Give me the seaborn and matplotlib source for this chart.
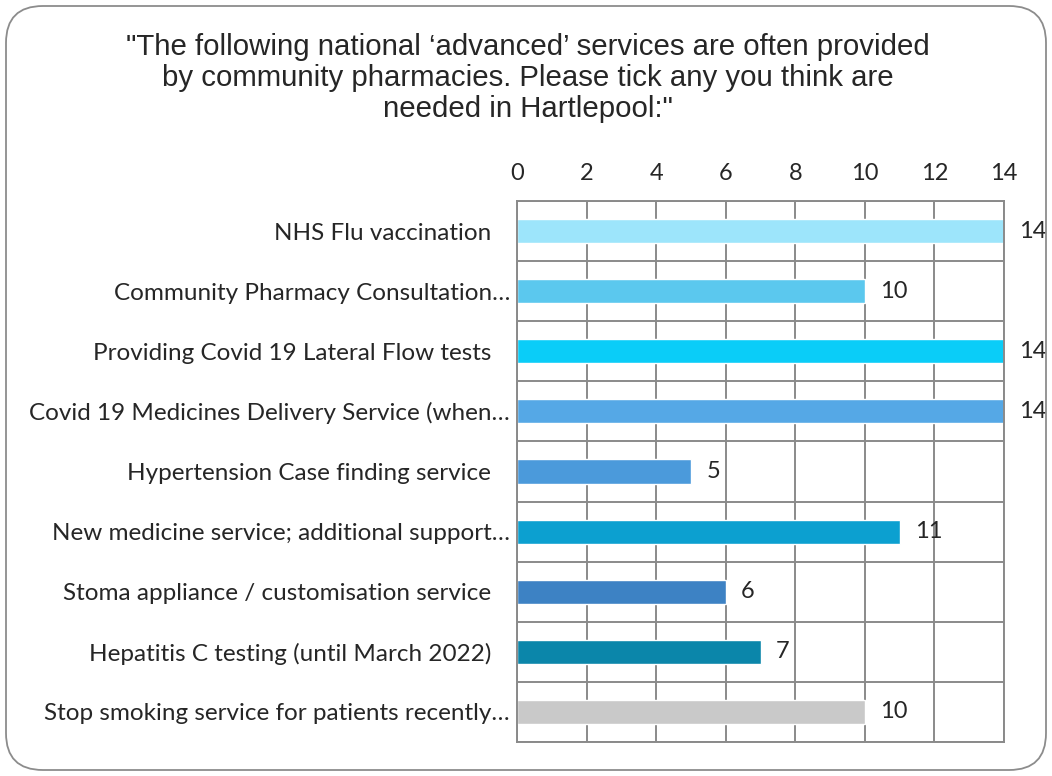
import matplotlib
matplotlib.use("Agg")
import matplotlib.pyplot as plt
from matplotlib.patches import FancyBboxPatch
from matplotlib.ticker import FixedLocator
import seaborn as sns
import pandas as pd

services = [
    "NHS Flu vaccination   ",
    "Community Pharmacy Consultation…",
    "Providing Covid 19 Lateral Flow tests   ",
    "Covid 19 Medicines Delivery Service (when…",
    "Hypertension Case finding service   ",
    "New medicine service; additional support…",
    "Stoma appliance / customisation service   ",
    "Hepatitis C testing (until March 2022)   ",
    "Stop smoking service for patients recently…",
]
responses = [14, 10, 14, 14, 5, 11, 6, 7, 10]
bar_colors = ["#9DE5FB", "#5BC8EE", "#0ACDF8", "#55A8E6", "#4B9ADB",
              "#0CA0D0", "#3D82C4", "#0B86AA", "#C9C9C9"]
x_ticks = [0, 2, 4, 6, 8, 10, 12, 14]

title = ("\"The following national \u2018advanced\u2019 services are often provided\n"
         "by community pharmacies. Please tick any you think are\n"
         "needed in Hartlepool:\"")

df = pd.DataFrame({"service": services, "count": responses})

sns.set_style("white")
plt.rcParams["font.family"] = ["Lato", "DejaVu Sans"]

fig = plt.figure(figsize=(10.52, 7.76), dpi=100)

# rounded frame around the whole figure
frame = FancyBboxPatch((6 / 1052, 6 / 776), 1040 / 1052, 764 / 776,
                       boxstyle="round,pad=0,rounding_size=0.035",
                       transform=fig.transFigure, fill=False,
                       edgecolor="#8C8C8C", linewidth=1.3, mutation_aspect=1052 / 776)
fig.patches.append(frame)

fig.text(0.502, 1 - 33 / 776, title, ha="center", va="top", fontsize=21.2,
         family=["Liberation Sans", "DejaVu Sans"], linespacing=1.14)

ax = fig.add_axes([517 / 1052, 1 - 742 / 776, 487 / 1052, 541 / 776])
sns.barplot(data=df, y="service", x="count", hue="service", palette=bar_colors,
            legend=False, width=0.4, ax=ax, orient="h", saturation=1)

ax.set_xlim(0, 14)
ax.set_ylim(len(services) - 0.5, -0.5)
ax.xaxis.set_major_locator(FixedLocator(x_ticks))
ax.xaxis.tick_top()
ax.yaxis.set_minor_locator(FixedLocator([i + 0.5 for i in range(-1, len(services))]))
ax.set_axisbelow(True)
ax.grid(True, axis="x", which="major", color="#8A8A8A", linewidth=1.4)
ax.grid(True, axis="y", which="minor", color="#8A8A8A", linewidth=1.4)
ax.grid(False, axis="y", which="major")
for s in ax.spines.values():
    s.set_color("#8A8A8A")
    s.set_linewidth(1.4)
ax.tick_params(axis="x", which="both", length=0, pad=12, labelsize=17)
ax.tick_params(axis="y", which="both", length=0, pad=5, labelsize=17.5)
ax.set_xlabel("")
ax.set_ylabel("")

for i, v in enumerate(responses):
    ax.annotate(str(v), xy=(v, i), xytext=(11, 0), textcoords="offset points",
                ha="left", va="center", fontsize=17)

fig.savefig("out.png", dpi=100)
